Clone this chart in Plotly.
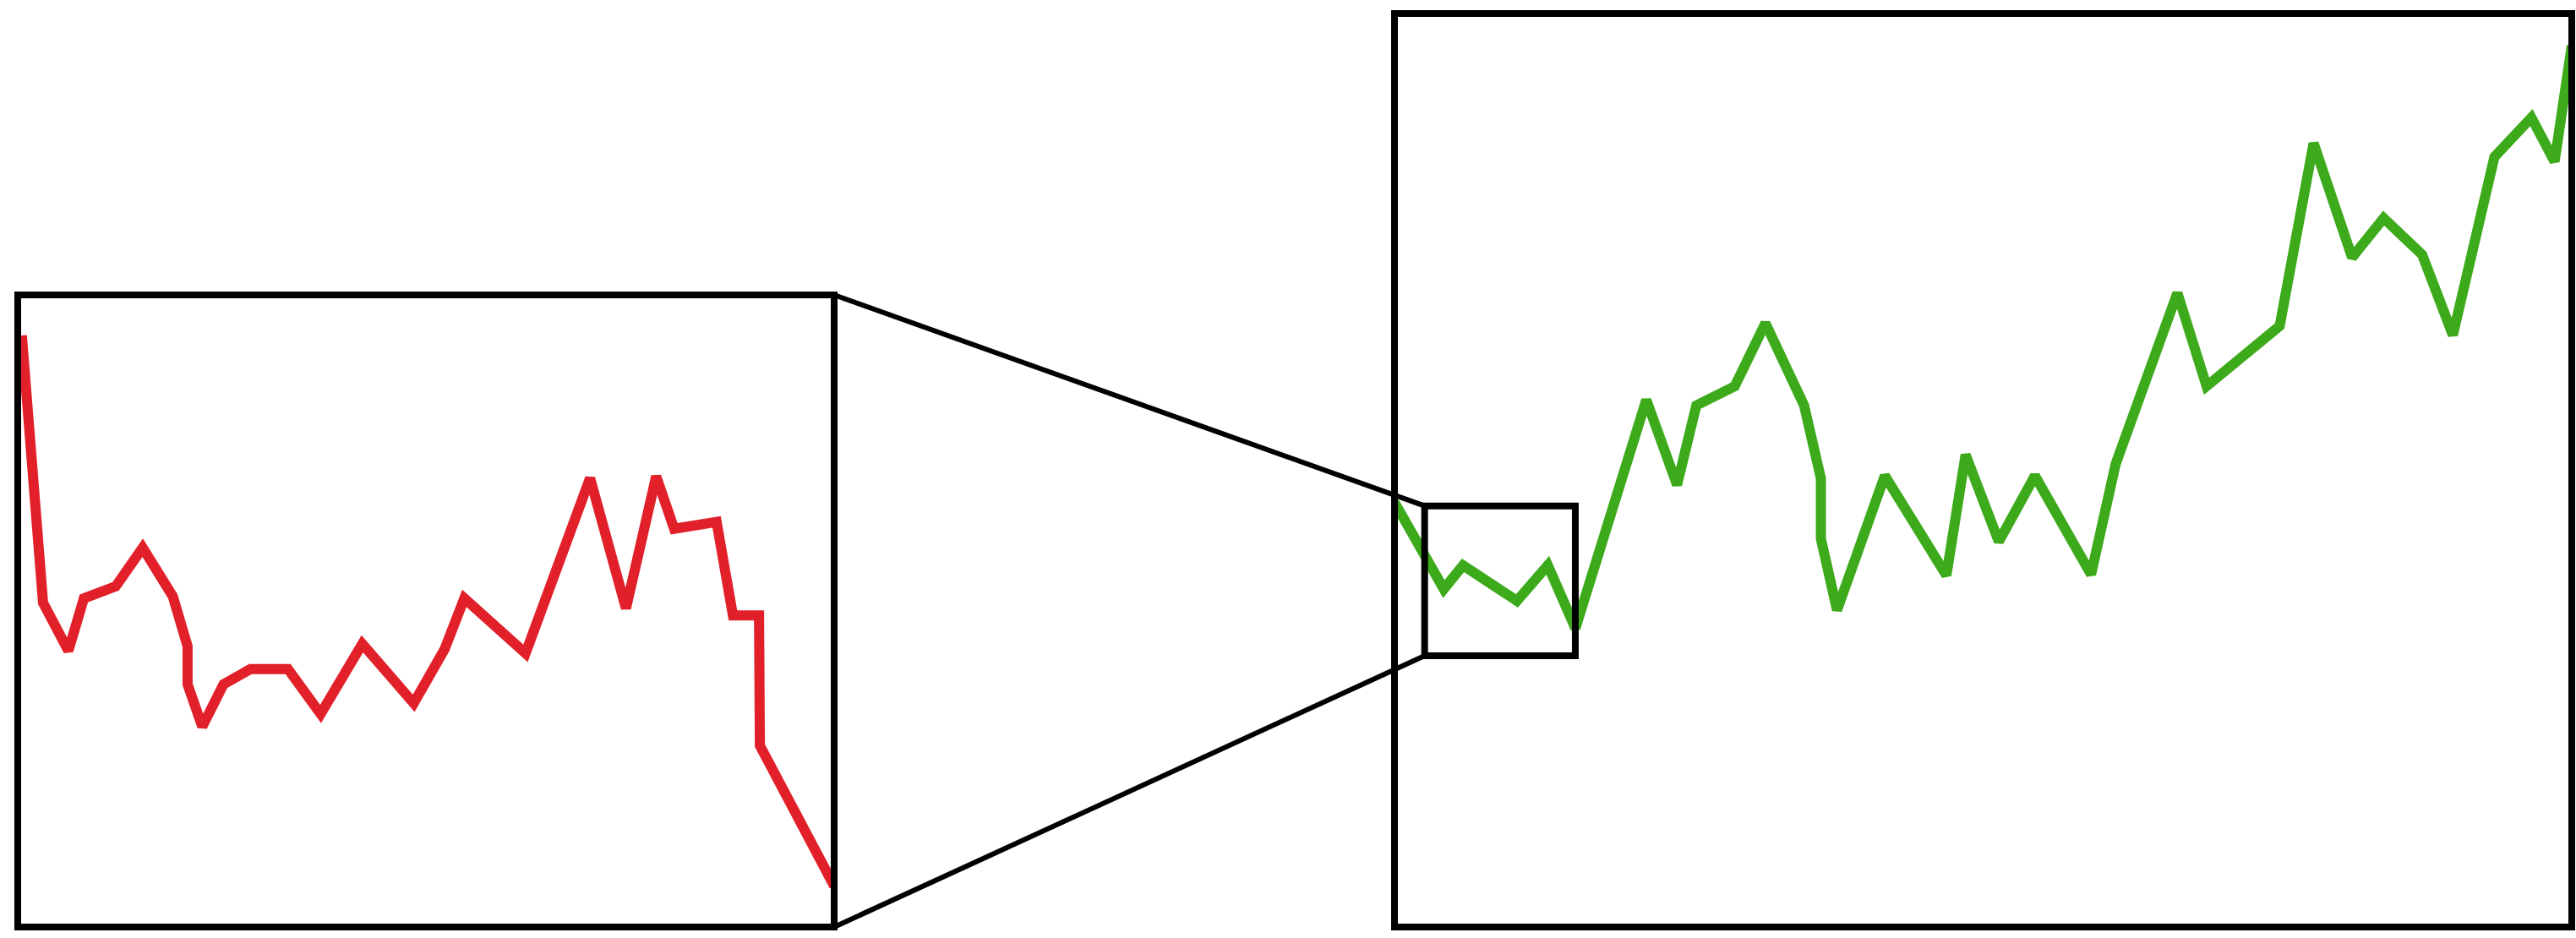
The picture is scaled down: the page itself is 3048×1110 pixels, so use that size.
import plotly.graph_objects as go

W, H = 3048, 1110

# Detail series (red), in the inset's own axis units (0-100 on both axes)
inset_x = [0.5, 3.1, 6.2, 8.1, 12.0, 15.3, 19.0, 20.8, 20.8, 22.6, 25.2, 28.5, 33.1, 37.1,
           42.2, 48.5, 52.3, 54.7, 62.2, 70.1, 74.5, 78.2, 80.4, 85.6, 87.6, 90.8, 90.9, 100.0]
inset_y = [93.6, 51.3, 43.7, 52.0, 53.9, 60.0, 52.3, 44.4, 38.4, 31.7, 38.4, 40.8, 40.8, 33.7,
           44.8, 35.4, 44.0, 52.0, 43.3, 71.0, 50.4, 71.3, 63.0, 64.1, 49.3, 49.3, 28.7, 6.5]

# Overview series (green), in the main axis units (0-100 on both axes)
main_x = [0.0, 4.19, 5.82, 10.40, 13.02, 15.37, 21.39, 24.00, 25.64, 28.90, 31.51, 34.79,
          36.22, 36.22, 37.59, 41.65, 46.88, 48.51, 51.33, 54.40, 59.17, 61.26, 66.50, 68.98,
          75.19, 78.07, 81.34, 84.02, 87.29, 89.90, 93.43, 96.57, 98.54, 100.0]
main_y = [46.5, 37.0, 39.6, 35.7, 39.6, 32.7, 57.7, 48.4, 57.1, 59.2, 66.1, 57.1,
          49.1, 42.5, 34.7, 49.4, 38.5, 51.7, 42.2, 49.4, 38.6, 50.7, 69.4, 59.2,
          65.8, 85.8, 73.3, 77.6, 73.6, 64.8, 84.3, 88.6, 83.8, 96.5]

# Zoom window marked on the overview, in main axis units
zoom_x = [2.56, 15.36]
zoom_y = [29.7, 46.1]

# Panel frames in pixels (left, right, top, bottom)
INSET = (21, 987, 349, 1097)
MAIN = (1650, 3043, 16, 1097)


def xdom(p):
    return [p[0] / W, p[1] / W]


def ydom(p):
    return [(H - p[3]) / H, (H - p[2]) / H]


RANGE = [0, 100]

fig = go.Figure()
fig.add_trace(go.Scatter(x=inset_x, y=inset_y, mode="lines", xaxis="x", yaxis="y",
                         line=dict(color="#E2202A", width=12), hoverinfo="skip"))
fig.add_trace(go.Scatter(x=main_x, y=main_y, mode="lines", xaxis="x2", yaxis="y2",
                         line=dict(color="#3DAA1C", width=12), hoverinfo="skip"))

axis_common = dict(visible=False, range=RANGE, fixedrange=True)
fig.update_layout(
    width=W, height=H,
    margin=dict(l=0, r=0, t=0, b=0),
    paper_bgcolor="white", plot_bgcolor="white",
    showlegend=False,
    xaxis=dict(domain=xdom(INSET), anchor="y", **axis_common),
    yaxis=dict(domain=ydom(INSET), anchor="x", **axis_common),
    xaxis2=dict(domain=xdom(MAIN), anchor="y2", **axis_common),
    yaxis2=dict(domain=ydom(MAIN), anchor="x2", **axis_common),
)

frame = dict(color="black", width=8)

# Frames around both panels
fig.add_shape(type="rect", xref="x domain", yref="y domain", x0=0, x1=1, y0=0, y1=1,
              line=frame, layer="above")
fig.add_shape(type="rect", xref="x2 domain", yref="y2 domain", x0=0, x1=1, y0=0, y1=1,
              line=frame, layer="above")

# Zoom window on the overview
fig.add_shape(type="rect", xref="x2", yref="y2",
              x0=zoom_x[0], x1=zoom_x[1], y0=zoom_y[0], y1=zoom_y[1],
              line=frame, layer="above")


# Connector lines from the inset's right corners to the zoom window's left corners
def main_to_paper(xv, yv):
    dx, dy = xdom(MAIN), ydom(MAIN)
    px = dx[0] + (xv - RANGE[0]) / (RANGE[1] - RANGE[0]) * (dx[1] - dx[0])
    py = dy[0] + (yv - RANGE[0]) / (RANGE[1] - RANGE[0]) * (dy[1] - dy[0])
    return px, py


ix1 = xdom(INSET)[1]
iy0, iy1 = ydom(INSET)
zx_top, zy_top = main_to_paper(zoom_x[0], zoom_y[1])
zx_bot, zy_bot = main_to_paper(zoom_x[0], zoom_y[0])

connector = dict(color="black", width=6)
fig.add_shape(type="line", xref="paper", yref="paper", x0=ix1, y0=iy1, x1=zx_top, y1=zy_top,
              line=connector, layer="above")
fig.add_shape(type="line", xref="paper", yref="paper", x0=ix1, y0=iy0, x1=zx_bot, y1=zy_bot,
              line=connector, layer="above")

fig.write_html("out.html", config=dict(displayModeBar=False))
